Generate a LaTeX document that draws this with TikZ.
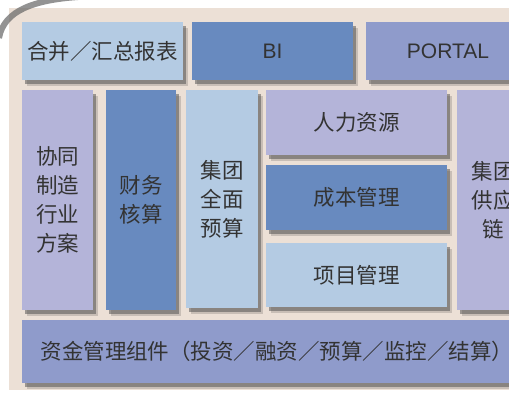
\documentclass[tikz,border=0pt]{standalone}
\usepackage{fontspec}
\setmainfont{Liberation Sans}
\newfontfamily\cjk{Noto Sans CJK SC}
\usetikzlibrary{positioning, shadows}

\definecolor{panel}{RGB}{236,224,214}
\definecolor{paleblue}{RGB}{180,203,227}
\definecolor{deepblue}{RGB}{104,138,191}
\definecolor{lilac}{RGB}{180,180,217}
\definecolor{slate}{RGB}{143,155,203}

\begin{document}
\begin{tikzpicture}[
            x=1pt, y=-1pt,
            box/.style={rectangle, anchor=north west, inner sep=0pt, outer sep=0pt, align=center,
                text=black!80, font=\cjk\fontsize{21.5pt}{29pt}\selectfont,
                drop shadow={shadow xshift=5pt, shadow yshift=-6pt, fill=black, opacity=0.15},
                drop shadow={shadow xshift=3pt, shadow yshift=-4pt, fill=black!70, opacity=0.5}},
            pale/.style={box, fill=paleblue},
            deep/.style={box, fill=deepblue},
            lav/.style={box, fill=lilac},
            slatebox/.style={box, fill=slate},
            latin/.style={font=\fontsize{21pt}{25pt}\selectfont}
        ]

        % Frame
        \useasboundingbox (0,0) rectangle (509,393);
        \clip (0,0) rectangle (509,393);
        \fill[white] (0,0) rectangle (509,393);
        \fill[panel] (9,8) rectangle (540,390);
        \draw[line width=6pt, black!60, opacity=0.7] (-1,38) .. controls (4,10) and (35,0) .. (78,-3);

        % Top row
        \node[pale, minimum width=161pt, minimum height=58pt] (report) at (22,22) {合并／汇总报表};
        \node[deep, latin, minimum width=161pt, minimum height=58pt] (bi) at (192,22) {BI};
        \node[slatebox, latin, minimum width=164pt, minimum height=58pt] (portal) at (366,22) {PORTAL};

        % Middle columns
        \node[lav, minimum width=71pt, minimum height=220pt] (cowork) at (22,90) {协同\\制造\\行业\\方案};
        \node[deep, minimum width=70pt, minimum height=220pt] (account) at (106,90) {财务\\核算};
        \node[pale, minimum width=72pt, minimum height=218pt] (budget) at (186,90) {集团\\全面\\预算};
        \node[lav, minimum width=181pt, minimum height=65pt] (hr) at (266,90) {人力资源};
        \node[deep, minimum width=181pt, minimum height=65pt] (cost) at (266,165) {成本管理};
        \node[pale, minimum width=181pt, minimum height=64pt] (project) at (266,243) {项目管理};
        \node[lav, minimum width=72pt, minimum height=220pt] (supply) at (457,90) {集团\\供应\\链};

        % Bottom bar
        \node[slatebox, minimum width=510pt, minimum height=63pt] (fund) at (22,320) {资金管理组件（投资／融资／预算／监控／结算）};

    \end{tikzpicture}
\end{document}
